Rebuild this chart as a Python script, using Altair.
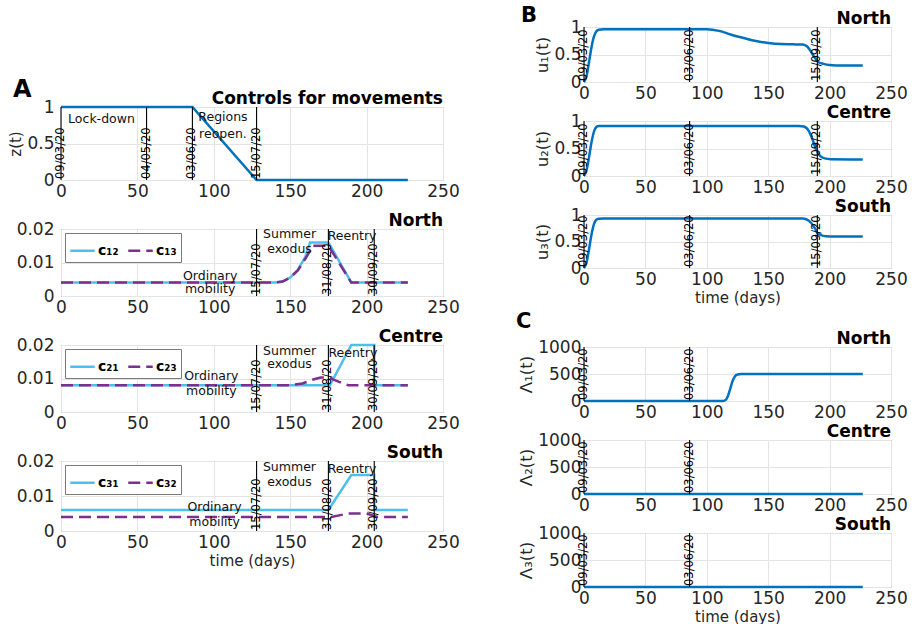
import altair as alt
import pandas as pd

FONT = "DejaVu Sans"
BLUE = "#0072BD"
LBLUE = "#4DBEEE"
PURPLE = "#7E2F8E"
INK = "#262626"
XTICKS = [0, 50, 100, 150, 200, 250]

# ---------------- A: controls for movements ----------------
z_t = [0, 86, 128, 227]
z_v = [1, 1, 0, 0]

# North
c12_t = [0, 140, 145, 150, 155, 160, 163, 175, 190, 227]
c12_v = [0.004, 0.004, 0.0043, 0.0055, 0.0078, 0.0118, 0.016, 0.016, 0.004, 0.004]
c13_t = [0, 140, 145, 150, 155, 160, 165, 175, 190, 227]
c13_v = [0.004, 0.004, 0.0043, 0.0055, 0.0076, 0.0112, 0.015, 0.015, 0.004, 0.004]

# Centre
c21_t = [0, 176, 190, 205, 205, 227]
c21_v = [0.008, 0.008, 0.02, 0.02, 0.008, 0.008]
c23_t = [0, 150, 158, 165, 170, 175, 182, 188, 227]
c23_v = [0.008, 0.008, 0.0085, 0.0097, 0.0103, 0.0103, 0.009, 0.008, 0.008]

# South
c31_t = [0, 175, 190, 205, 205, 227]
c31_v = [0.006, 0.006, 0.016, 0.016, 0.006, 0.006]
c32_t = [0, 177, 188, 200, 207, 227]
c32_v = [0.004, 0.004, 0.005, 0.005, 0.004, 0.004]

# ---------------- B: u_i(t) ----------------
u1_t = [0, 2, 4, 6, 8, 10, 12, 16, 100, 110, 120, 130, 140, 150, 160, 170, 178,
        182, 185, 188, 191, 195, 200, 210, 227]
u1_v = [0, 0.1, 0.35, 0.62, 0.82, 0.92, 0.95, 0.96, 0.96, 0.93, 0.86, 0.80, 0.745,
        0.71, 0.69, 0.685, 0.68, 0.64, 0.545, 0.44, 0.36, 0.33, 0.31, 0.30, 0.30]
u2_t = [0, 2, 4, 6, 8, 10, 12, 16, 175, 179, 183, 186, 189, 192, 196, 201, 227]
u2_v = [0, 0.1, 0.33, 0.6, 0.8, 0.89, 0.91, 0.91, 0.91, 0.90, 0.82, 0.67, 0.48,
        0.37, 0.32, 0.305, 0.30]
u3_t = [0, 2, 4, 6, 8, 10, 12, 16, 178, 181, 185, 188, 190, 193, 197, 205, 227]
u3_v = [0, 0.1, 0.34, 0.62, 0.82, 0.91, 0.93, 0.935, 0.935, 0.92, 0.85, 0.75,
        0.66, 0.62, 0.60, 0.595, 0.595]

# ---------------- C: Lambda_i(t) ----------------
l1_t = [0, 113, 115, 117, 119, 121, 123, 125, 128, 132, 227]
l1_v = [0, 0, 15, 80, 220, 370, 460, 490, 500, 500, 500]
l2_t = [0, 227]
l2_v = [0, 0]
l3_t = [0, 227]
l3_v = [0, 0]

# event dates (days since 09/03/20)
a1_days = [0, 56, 86, 128]
a1_labels = ["09/03/20", "04/05/20", "03/06/20", "15/07/20"]
summer_days = [128, 175, 205]
summer_labels = ["15/07/20", "31/08/20", "30/09/20"]
b_days = [0, 86, 190]
b_labels = ["09/03/20", "03/06/20", "15/09/20"]
c_days = [0, 86]
c_labels = ["09/03/20", "03/06/20"]

# text notes
a1_note_x = [26.5, 106, 106]
a1_note_y = [0.84, 0.86, 0.635]
a1_note_text = ["Lock-down", "Regions", "reopen."]
north_note_x = [97.6, 97.6, 149.6, 149.6, 190.5]
north_note_y = [0.006, 0.0021, 0.0185, 0.014, 0.0179]
centre_note_x = [98.4, 98.4, 149.6, 149.6, 191]
centre_note_y = [0.0106, 0.0064, 0.0182, 0.0142, 0.0176]
south_note_x = [100.5, 100.5, 149.5, 149.5, 190.5]
south_note_y = [0.0069, 0.0026, 0.0183, 0.014, 0.0177]
mob_note_text = ["Ordinary", "mobility", "Summer", "exodus", "Reentry"]


def series_df(names, ts, vs):
    rows = []
    for name, tt, vv in zip(names, ts, vs):
        for i, (a, b) in enumerate(zip(tt, vv)):
            rows.append({"s": name, "i": i, "t": a, "v": b})
    return pd.DataFrame(rows)


def label_layer(text, x, y, size, align):
    return alt.Chart(pd.DataFrame({"k": [0]})).mark_text(
        align=align, baseline="alphabetic", fontSize=size, fontWeight="bold",
        font=FONT, color="black",
    ).encode(x=alt.value(x), y=alt.value(y), text=alt.value(text))


def panel(df, ylo, yhi, yticks, ytitle, title, w, h, days, day_labels,
          notes=None, legend=None, xtitle=None, letter=None, interp="linear",
          ylabpad=7, ytitlesize=15):
    xenc = alt.X("t:Q", scale=alt.Scale(domain=[0, 250], nice=False, zero=False),
                 axis=alt.Axis(values=XTICKS, title=xtitle,
                               labelExpr="datum.value + ''"))
    yenc = alt.Y("v:Q", scale=alt.Scale(domain=[ylo, yhi], nice=False, zero=False),
                 axis=alt.Axis(values=yticks, title=ytitle, labelPadding=ylabpad,
                               titleFontSize=ytitlesize,
                               labelExpr="datum.value + ''"))

    line = alt.Chart(df).mark_line(strokeWidth=2.5, interpolate=interp)
    if legend:
        leg = alt.Legend(title=None, orient="top-left")
        line = line.encode(
            x=xenc, y=yenc, order="i:Q",
            color=alt.Color("s:N", scale=alt.Scale(domain=legend, range=[LBLUE, PURPLE]),
                            legend=leg),
            strokeDash=alt.StrokeDash("s:N", scale=alt.Scale(domain=legend,
                                                             range=[[1, 0], [12, 6]]),
                                      legend=leg),
        )
    else:
        line = line.encode(x=xenc, y=yenc, order="i:Q", detail="s:N",
                           color=alt.value(BLUE))

    ddf = pd.DataFrame({"t": days, "lab": day_labels, "v": [ylo] * len(days)})
    rules = alt.Chart(ddf).mark_rule(color="black", strokeWidth=1.1).encode(x=xenc)
    labels = alt.Chart(ddf).mark_text(
        angle=270, align="left", baseline="middle", fontSize=11.5, font=FONT,
        color="black", dx=1,
    ).encode(x=xenc, y=yenc, text="lab:N")

    layers = [line, rules, labels]
    if notes is not None:
        ndf = pd.DataFrame({"t": notes[0], "v": notes[1], "txt": notes[2]})
        layers.append(alt.Chart(ndf).mark_text(
            fontSize=12.5, font=FONT, color="#111111", align="center", baseline="middle"
        ).encode(x=xenc, y=yenc, text="txt:N"))
    # panel heading, right-aligned with the plot frame
    layers.append(label_layer(title, w, -3, 17, "right"))
    if letter is not None:
        lt, lx, ly, lsize = letter
        layers.append(label_layer(lt, lx, ly, lsize, "left"))

    return alt.layer(*layers).properties(width=w, height=h)


def spacer(w, h):
    return alt.Chart(pd.DataFrame({"t": [0]})).mark_point(opacity=0).encode(
        x=alt.X("t:Q", axis=None), y=alt.Y("t:Q", axis=None)
    ).properties(width=w, height=h, view=alt.ViewBackground(stroke="transparent"))


WA = 382
WB = 307

a1 = panel(series_df(["z"], [z_t], [z_v]), 0, 1, [0, 0.5, 1], "z(t)",
           "Controls for movements", WA, 73, a1_days, a1_labels,
           notes=(a1_note_x, a1_note_y, a1_note_text),
           letter=("A", -48, -10, 24))
a2 = panel(series_df(["c₁₂", "c₁₃"], [c12_t, c13_t], [c12_v, c13_v]), 0, 0.02,
           [0, 0.01, 0.02], None, "North", WA, 67, summer_days, summer_labels,
           notes=(north_note_x, north_note_y, mob_note_text), legend=["c₁₂", "c₁₃"])
a3 = panel(series_df(["c₂₁", "c₂₃"], [c21_t, c23_t], [c21_v, c23_v]), 0, 0.02,
           [0, 0.01, 0.02], None, "Centre", WA, 67, summer_days, summer_labels,
           notes=(centre_note_x, centre_note_y, mob_note_text), legend=["c₂₁", "c₂₃"])
a4 = panel(series_df(["c₃₁", "c₃₂"], [c31_t, c32_t], [c31_v, c32_v]), 0, 0.02,
           [0, 0.01, 0.02], None, "South", WA, 70, summer_days, summer_labels,
           notes=(south_note_x, south_note_y, mob_note_text), legend=["c₃₁", "c₃₂"],
           xtitle="time (days)")

b1 = panel(series_df(["u1"], [u1_t], [u1_v]), 0, 1, [0, 0.5, 1], "u₁(t)", "North",
           WB, 55, b_days, b_labels, interp="monotone", ylabpad=3, ytitlesize=16.5,
           letter=("B", -63, -5, 21))
b2 = panel(series_df(["u2"], [u2_t], [u2_v]), 0, 1, [0, 0.5, 1], "u₂(t)", "Centre",
           WB, 55, b_days, b_labels, interp="monotone", ylabpad=3, ytitlesize=16.5)
b3 = panel(series_df(["u3"], [u3_t], [u3_v]), 0, 1, [0, 0.5, 1], "u₃(t)", "South",
           WB, 53, b_days, b_labels, interp="monotone", ylabpad=3, ytitlesize=16.5,
           xtitle="time (days)")

c1 = panel(series_df(["l1"], [l1_t], [l1_v]), 0, 1000, [0, 500, 1000], "Λ₁(t)", "North",
           WB, 54, c_days, c_labels, interp="monotone", ylabpad=3, ytitlesize=16.5,
           letter=("C", -68, -19, 21))
c2 = panel(series_df(["l2"], [l2_t], [l2_v]), 0, 1000, [0, 500, 1000], "Λ₂(t)", "Centre",
           WB, 54, c_days, c_labels, ylabpad=3, ytitlesize=16.5)
c3 = panel(series_df(["l3"], [l3_t], [l3_v]), 0, 1000, [0, 500, 1000], "Λ₃(t)", "South",
           WB, 54, c_days, c_labels, ylabpad=3, ytitlesize=16.5, xtitle="time (days)")

indep = dict(x="independent", y="independent", color="independent",
             strokeDash="independent")

left = alt.vconcat(spacer(WA, 31), a1, a2, a3, a4, spacing=49,
                   bounds="flush").resolve_scale(**indep)
right = alt.vconcat(b1, b2, b3, spacer(WB, 1), c1, c2, c3, spacing=39,
                    bounds="flush").resolve_scale(**indep)

chart = alt.hconcat(left, right, spacing=55).resolve_scale(**indep).properties(
    padding={"left": 8, "top": 4, "right": 4, "bottom": 4},
    background="white",
).configure_view(
    stroke="#7a7a7a", strokeWidth=1,
).configure_axis(
    labelFont=FONT, labelFontSize=17, labelColor=INK, titleFont=FONT,
    titleFontSize=15, titleFontWeight="normal", titleColor=INK, grid=True,
    gridColor="#e4e4e4", gridWidth=1, domain=False, ticks=False, labelFlush=False,
    labelOverlap=False, labelPadding=3, titlePadding=3,
).configure_legend(
    direction="horizontal", symbolType="stroke", symbolSize=600,
    symbolStrokeWidth=2.5, labelFont=FONT, labelFontSize=14, labelFontWeight="bold",
    labelColor="black", strokeColor="#7a7a7a", fillColor="white", padding=4,
    offset=4, columnPadding=4, labelOffset=2,
)

chart.save("out.html", embed_options={"renderer": "svg", "actions": False})
